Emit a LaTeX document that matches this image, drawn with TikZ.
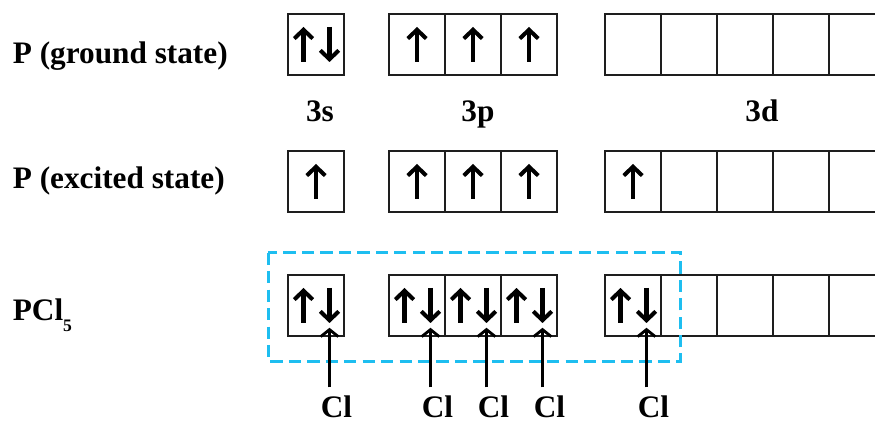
\documentclass[tikz,border=0pt]{standalone}
\usepackage{fontspec}
\setmainfont{Liberation Serif}
\usepackage{tikz}
\usetikzlibrary{positioning,arrows.meta,calc}
\definecolor{marco}{RGB}{30,190,240}
\definecolor{linea}{RGB}{30,30,30}
\newcommand{\espin}[1]{\draw[spin] ($(#1.center)+(0,-0.35)$) -- ++(0,0.7);}
\newcommand{\epar}[1]{\draw[spin] ($(#1.center)+(-0.25,-0.35)$) -- ++(0,0.7);
  \draw[spin] ($(#1.center)+(0.27,0.35)$) -- ++(0,-0.7);}

\begin{document}
\begin{tikzpicture}[font=\bfseries\fontsize{17.8}{21}\selectfont,
    orb/.style={draw=linea, line width=0.9pt, minimum width=1.12cm, minimum height=1.22cm, inner sep=0pt},
    lbl/.style={anchor=base west, inner sep=0pt},
    spin/.style={line width=2.3pt, -{Straight Barb[length=5pt,width=10.5pt]}},
    bond/.style={line width=1.6pt, -{Straight Barb[length=4pt,width=10pt]}}]
  \useasboundingbox (0,0) rectangle (17.5,8.5);
  % filas: 1 = fundamental, 2 = excitado, 3 = PCl5
  \foreach \r/\y in {1/7.61,2/4.87,3/2.39} {
    \node[orb] (s\r) at (6.32,\y) {};
    \foreach \i in {1,2,3}
      \node[orb] (p\r\i) at ({8.34+(\i-1)*1.12},\y) {};
    \foreach \i in {1,...,5}
      \node[orb] (d\r\i) at ({12.66+(\i-1)*1.12},\y) {};
  }
  \epar{s1} \espin{p11} \espin{p12} \espin{p13}
  \espin{s2} \espin{p21} \espin{p22} \espin{p23} \espin{d21}
  \epar{s3} \epar{p31} \epar{p32} \epar{p33} \epar{d31}
  \node[lbl] (gnd) at (0.25,7.23) {P (ground state)};
  \node[lbl] (exc) at (0.25,4.73) {P (excited state)};
  \node[lbl] (pcl) at (0.25,2.08) {PCl\raisebox{-6pt}{\fontsize{10}{12}\selectfont 5}};
  \node[anchor=base] (l3s) at (6.4,6.06) {3s};
  \node[anchor=base] (l3p) at (9.56,6.06) {3p};
  \node[anchor=base] (l3d) at (15.24,6.06) {3d};
  \draw[marco, line width=1.7pt, dash pattern=on 7pt off 3.5pt]
    ($(s3.north west)+(-0.38,0.43)$) rectangle ($(d31.south east)+(0.38,-0.49)$);
  \foreach \b/\k in {s3/1,p31/2,p32/3,p33/4,d31/5} {
    \path (\b.south) ++(0.41,0) coordinate (c\k);
    \node[anchor=base, inner ysep=0pt] (cl\k) at (c\k |- 0,0.15) {Cl};
    \draw[bond] ([xshift=-0.14cm,yshift=0.16cm]cl\k.north) -- ([xshift=0.27cm,yshift=0.18cm]\b.south);
  }
\end{tikzpicture}
\end{document}
